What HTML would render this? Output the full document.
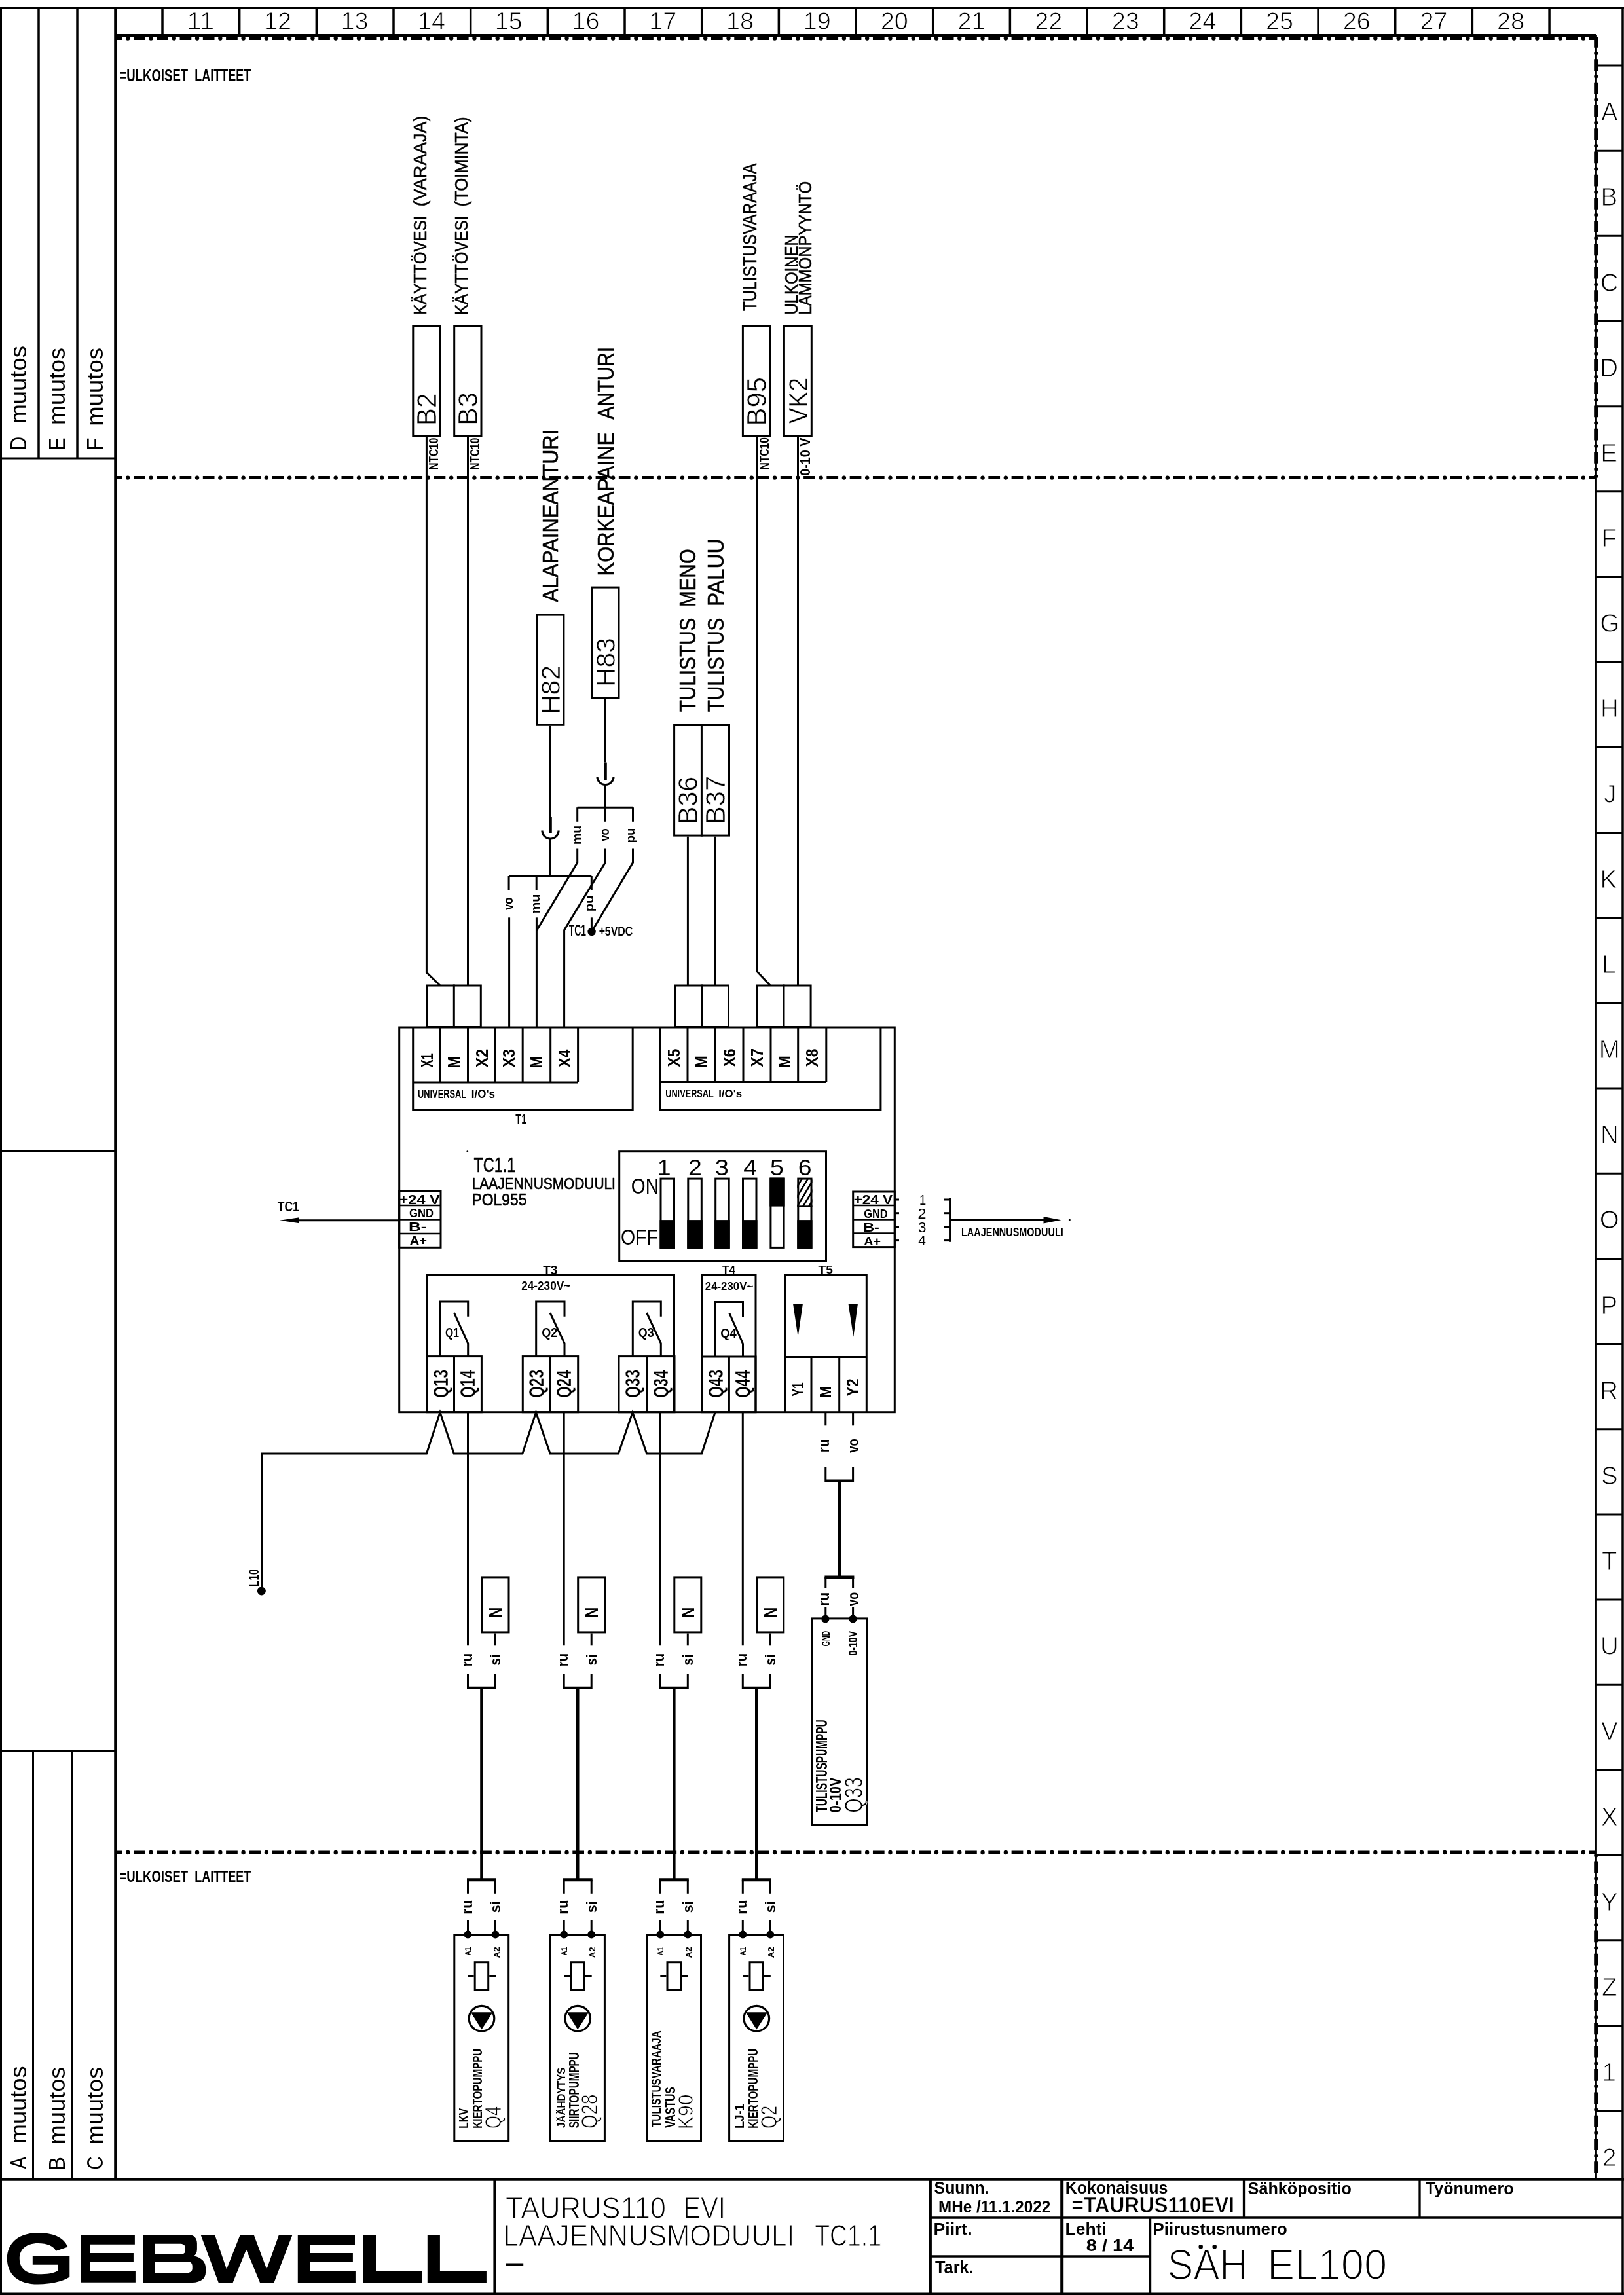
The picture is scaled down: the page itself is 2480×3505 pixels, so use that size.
<!DOCTYPE html>
<html><head><meta charset="utf-8"><style>
html,body{margin:0;padding:0;background:#fff;}
svg{display:block;filter:grayscale(1);}
svg text{font-family:"Liberation Sans",sans-serif;fill:#000;}
</style></head><body>
<svg width="2480" height="3505" viewBox="0 0 2480 3505">
<g stroke="#000" fill="none">
<rect x="0" y="0" width="2480" height="3505" fill="#fff" stroke="none"/>
<line x1="0" y1="12" x2="2480" y2="12" stroke-width="4" stroke-linecap="butt"/>
<line x1="1.5" y1="10" x2="1.5" y2="3505" stroke-width="3" stroke-linecap="butt"/>
<line x1="2478" y1="10" x2="2478" y2="3505" stroke-width="3.5" stroke-linecap="butt"/>
<line x1="0" y1="3503.3" x2="2480" y2="3503.3" stroke-width="3.5" stroke-linecap="butt"/>
<line x1="59" y1="12" x2="59" y2="700" stroke-width="3.5" stroke-linecap="butt"/>
<line x1="118" y1="12" x2="118" y2="700" stroke-width="3.5" stroke-linecap="butt"/>
<line x1="176.5" y1="12" x2="176.5" y2="3328" stroke-width="4.6" stroke-linecap="butt"/>
<line x1="0" y1="700" x2="176.5" y2="700" stroke-width="3" stroke-linecap="butt"/>
<line x1="0" y1="1758.4" x2="176.5" y2="1758.4" stroke-width="3" stroke-linecap="butt"/>
<line x1="0" y1="2674" x2="176.5" y2="2674" stroke-width="4" stroke-linecap="butt"/>
<line x1="50.5" y1="2674" x2="50.5" y2="3328" stroke-width="3" stroke-linecap="butt"/>
<line x1="109.5" y1="2674" x2="109.5" y2="3328" stroke-width="3" stroke-linecap="butt"/>
<text transform="translate(40 687.23) rotate(-90)" font-size="35.61" textLength="20.48" lengthAdjust="spacingAndGlyphs" stroke="none">D</text>
<text transform="translate(40 647.62) rotate(-90)" font-size="35.61" textLength="119.64" lengthAdjust="spacingAndGlyphs" stroke="none">muutos</text>
<text transform="translate(99 687.22) rotate(-90)" font-size="35.61" textLength="18.83" lengthAdjust="spacingAndGlyphs" stroke="none">E</text>
<text transform="translate(99 649.09) rotate(-90)" font-size="35.61" textLength="117.99" lengthAdjust="spacingAndGlyphs" stroke="none">muutos</text>
<text transform="translate(157 687.47) rotate(-90)" font-size="35.61" textLength="19.12" lengthAdjust="spacingAndGlyphs" stroke="none">F</text>
<text transform="translate(157 650.72) rotate(-90)" font-size="35.61" textLength="119.64" lengthAdjust="spacingAndGlyphs" stroke="none">muutos</text>
<text transform="translate(39.7 3312.45) rotate(-90)" font-size="35.61" textLength="18.51" lengthAdjust="spacingAndGlyphs" stroke="none">A</text>
<text transform="translate(39.7 3274.21) rotate(-90)" font-size="35.61" textLength="118.82" lengthAdjust="spacingAndGlyphs" stroke="none">muutos</text>
<text transform="translate(99.1 3314.96) rotate(-90)" font-size="35.61" textLength="20.8" lengthAdjust="spacingAndGlyphs" stroke="none">B</text>
<text transform="translate(99.1 3275.41) rotate(-90)" font-size="35.61" textLength="118.82" lengthAdjust="spacingAndGlyphs" stroke="none">muutos</text>
<text transform="translate(157 3313.83) rotate(-90)" font-size="35.61" textLength="20.3" lengthAdjust="spacingAndGlyphs" stroke="none">C</text>
<text transform="translate(157 3275.4) rotate(-90)" font-size="35.61" textLength="118.71" lengthAdjust="spacingAndGlyphs" stroke="none">muutos</text>
<line x1="176.5" y1="54" x2="2437" y2="54" stroke-width="4" stroke-linecap="butt"/>
<line x1="248" y1="12" x2="248" y2="54" stroke-width="3.5" stroke-linecap="butt"/>
<line x1="365.67" y1="12" x2="365.67" y2="54" stroke-width="3.5" stroke-linecap="butt"/>
<line x1="483.34" y1="12" x2="483.34" y2="54" stroke-width="3.5" stroke-linecap="butt"/>
<line x1="601.01" y1="12" x2="601.01" y2="54" stroke-width="3.5" stroke-linecap="butt"/>
<line x1="718.68" y1="12" x2="718.68" y2="54" stroke-width="3.5" stroke-linecap="butt"/>
<line x1="836.35" y1="12" x2="836.35" y2="54" stroke-width="3.5" stroke-linecap="butt"/>
<line x1="954.02" y1="12" x2="954.02" y2="54" stroke-width="3.5" stroke-linecap="butt"/>
<line x1="1071.69" y1="12" x2="1071.69" y2="54" stroke-width="3.5" stroke-linecap="butt"/>
<line x1="1189.36" y1="12" x2="1189.36" y2="54" stroke-width="3.5" stroke-linecap="butt"/>
<line x1="1307.03" y1="12" x2="1307.03" y2="54" stroke-width="3.5" stroke-linecap="butt"/>
<line x1="1424.7" y1="12" x2="1424.7" y2="54" stroke-width="3.5" stroke-linecap="butt"/>
<line x1="1542.37" y1="12" x2="1542.37" y2="54" stroke-width="3.5" stroke-linecap="butt"/>
<line x1="1660.04" y1="12" x2="1660.04" y2="54" stroke-width="3.5" stroke-linecap="butt"/>
<line x1="1777.71" y1="12" x2="1777.71" y2="54" stroke-width="3.5" stroke-linecap="butt"/>
<line x1="1895.38" y1="12" x2="1895.38" y2="54" stroke-width="3.5" stroke-linecap="butt"/>
<line x1="2013.05" y1="12" x2="2013.05" y2="54" stroke-width="3.5" stroke-linecap="butt"/>
<line x1="2130.72" y1="12" x2="2130.72" y2="54" stroke-width="3.5" stroke-linecap="butt"/>
<line x1="2248.39" y1="12" x2="2248.39" y2="54" stroke-width="3.5" stroke-linecap="butt"/>
<line x1="2366.06" y1="12" x2="2366.06" y2="54" stroke-width="3.5" stroke-linecap="butt"/>
<text x="285.3" y="45.3" font-size="37.79" textLength="42.04" lengthAdjust="spacingAndGlyphs" stroke="#fff" stroke-width="0.9" stroke-linejoin="round">11</text>
<text x="403" y="45.3" font-size="37.79" textLength="42.04" lengthAdjust="spacingAndGlyphs" stroke="#fff" stroke-width="0.9" stroke-linejoin="round">12</text>
<text x="520.55" y="45.3" font-size="37.79" textLength="42.04" lengthAdjust="spacingAndGlyphs" stroke="#fff" stroke-width="0.9" stroke-linejoin="round">13</text>
<text x="637.94" y="45.3" font-size="37.79" textLength="42.04" lengthAdjust="spacingAndGlyphs" stroke="#fff" stroke-width="0.9" stroke-linejoin="round">14</text>
<text x="755.85" y="45.3" font-size="37.79" textLength="42.04" lengthAdjust="spacingAndGlyphs" stroke="#fff" stroke-width="0.9" stroke-linejoin="round">15</text>
<text x="873.56" y="45.3" font-size="37.79" textLength="42.04" lengthAdjust="spacingAndGlyphs" stroke="#fff" stroke-width="0.9" stroke-linejoin="round">16</text>
<text x="991.35" y="45.3" font-size="37.79" textLength="42.04" lengthAdjust="spacingAndGlyphs" stroke="#fff" stroke-width="0.9" stroke-linejoin="round">17</text>
<text x="1108.89" y="45.3" font-size="37.79" textLength="42.04" lengthAdjust="spacingAndGlyphs" stroke="#fff" stroke-width="0.9" stroke-linejoin="round">18</text>
<text x="1226.63" y="45.3" font-size="37.79" textLength="42.04" lengthAdjust="spacingAndGlyphs" stroke="#fff" stroke-width="0.9" stroke-linejoin="round">19</text>
<text x="1344.64" y="45.3" font-size="37.79" textLength="42.04" lengthAdjust="spacingAndGlyphs" stroke="#fff" stroke-width="0.9" stroke-linejoin="round">20</text>
<text x="1462.49" y="45.3" font-size="37.79" textLength="42.04" lengthAdjust="spacingAndGlyphs" stroke="#fff" stroke-width="0.9" stroke-linejoin="round">21</text>
<text x="1580.19" y="45.3" font-size="37.79" textLength="42.04" lengthAdjust="spacingAndGlyphs" stroke="#fff" stroke-width="0.9" stroke-linejoin="round">22</text>
<text x="1697.74" y="45.3" font-size="37.79" textLength="42.04" lengthAdjust="spacingAndGlyphs" stroke="#fff" stroke-width="0.9" stroke-linejoin="round">23</text>
<text x="1815.13" y="45.3" font-size="37.79" textLength="42.04" lengthAdjust="spacingAndGlyphs" stroke="#fff" stroke-width="0.9" stroke-linejoin="round">24</text>
<text x="1933.04" y="45.3" font-size="37.79" textLength="42.04" lengthAdjust="spacingAndGlyphs" stroke="#fff" stroke-width="0.9" stroke-linejoin="round">25</text>
<text x="2050.75" y="45.3" font-size="37.79" textLength="42.04" lengthAdjust="spacingAndGlyphs" stroke="#fff" stroke-width="0.9" stroke-linejoin="round">26</text>
<text x="2168.54" y="45.3" font-size="37.79" textLength="42.04" lengthAdjust="spacingAndGlyphs" stroke="#fff" stroke-width="0.9" stroke-linejoin="round">27</text>
<text x="2286.08" y="45.3" font-size="37.79" textLength="42.04" lengthAdjust="spacingAndGlyphs" stroke="#fff" stroke-width="0.9" stroke-linejoin="round">28</text>
<line x1="178.8" y1="58.6" x2="2437" y2="58.6" stroke-width="5" stroke-dasharray="17.7 17.58" stroke-dashoffset="10.09"/>
<line x1="178.8" y1="58.6" x2="2434" y2="58.6" stroke-width="6.4" stroke-linecap="round" stroke-dasharray="0.01 35.27" stroke-dashoffset="18.87"/>
<line x1="178.8" y1="729.6" x2="2437" y2="729.6" stroke-width="5" stroke-dasharray="17.7 17.58" stroke-dashoffset="10.09"/>
<line x1="178.8" y1="729.6" x2="2434" y2="729.6" stroke-width="6.4" stroke-linecap="round" stroke-dasharray="0.01 35.27" stroke-dashoffset="18.87"/>
<line x1="178.8" y1="2829" x2="2437" y2="2829" stroke-width="5" stroke-dasharray="17.7 17.58" stroke-dashoffset="10.09"/>
<line x1="178.8" y1="2829" x2="2434" y2="2829" stroke-width="6.4" stroke-linecap="round" stroke-dasharray="0.01 35.27" stroke-dashoffset="18.87"/>
<line x1="2437" y1="54" x2="2437" y2="3328" stroke-width="3.8" stroke-linecap="butt"/>
<line x1="2437.2" y1="56.5" x2="2437.2" y2="729.6" stroke-width="6" stroke-dasharray="17.7 17.58" stroke-dashoffset="1.42"/>
<line x1="2437.2" y1="59.5" x2="2437.2" y2="726.6" stroke-width="6" stroke-linecap="round" stroke-dasharray="0.01 35.27" stroke-dashoffset="13.2"/>
<line x1="2437.2" y1="2829" x2="2437.2" y2="3328" stroke-width="6" stroke-dasharray="17.7 17.58" stroke-dashoffset="21.69"/>
<line x1="2437.2" y1="2832" x2="2437.2" y2="3325" stroke-width="6" stroke-linecap="round" stroke-dasharray="0.01 35.27" stroke-dashoffset="33.47"/>
<line x1="2437" y1="100" x2="2478" y2="100" stroke-width="3" stroke-linecap="butt"/>
<text x="2444.95" y="184.25" font-size="38.52" textLength="25.69" lengthAdjust="spacingAndGlyphs" stroke="#fff" stroke-width="1" stroke-linejoin="round">A</text>
<line x1="2437" y1="230.17" x2="2478" y2="230.17" stroke-width="3" stroke-linecap="butt"/>
<text x="2444.39" y="314.42" font-size="38.52" textLength="25.69" lengthAdjust="spacingAndGlyphs" stroke="#fff" stroke-width="1" stroke-linejoin="round">B</text>
<line x1="2437" y1="360.34" x2="2478" y2="360.34" stroke-width="3" stroke-linecap="butt"/>
<text x="2443.65" y="444.59" font-size="38.52" textLength="27.82" lengthAdjust="spacingAndGlyphs" stroke="#fff" stroke-width="1" stroke-linejoin="round">C</text>
<line x1="2437" y1="490.51" x2="2478" y2="490.51" stroke-width="3" stroke-linecap="butt"/>
<text x="2443.23" y="574.76" font-size="38.52" textLength="27.82" lengthAdjust="spacingAndGlyphs" stroke="#fff" stroke-width="1" stroke-linejoin="round">D</text>
<line x1="2437" y1="620.68" x2="2478" y2="620.68" stroke-width="3" stroke-linecap="butt"/>
<text x="2444.2" y="704.93" font-size="38.52" textLength="25.69" lengthAdjust="spacingAndGlyphs" stroke="#fff" stroke-width="1" stroke-linejoin="round">E</text>
<line x1="2437" y1="750.85" x2="2478" y2="750.85" stroke-width="3" stroke-linecap="butt"/>
<text x="2445.23" y="835.1" font-size="38.52" textLength="23.53" lengthAdjust="spacingAndGlyphs" stroke="#fff" stroke-width="1" stroke-linejoin="round">F</text>
<line x1="2437" y1="881.02" x2="2478" y2="881.02" stroke-width="3" stroke-linecap="butt"/>
<text x="2443.29" y="965.27" font-size="38.52" textLength="29.96" lengthAdjust="spacingAndGlyphs" stroke="#fff" stroke-width="1" stroke-linejoin="round">G</text>
<line x1="2437" y1="1011.19" x2="2478" y2="1011.19" stroke-width="3" stroke-linecap="butt"/>
<text x="2443.88" y="1095.44" font-size="38.52" textLength="27.82" lengthAdjust="spacingAndGlyphs" stroke="#fff" stroke-width="1" stroke-linejoin="round">H</text>
<line x1="2437" y1="1141.36" x2="2478" y2="1141.36" stroke-width="3" stroke-linecap="butt"/>
<text x="2449.3" y="1225.61" font-size="38.52" textLength="19.26" lengthAdjust="spacingAndGlyphs" stroke="#fff" stroke-width="1" stroke-linejoin="round">J</text>
<line x1="2437" y1="1271.53" x2="2478" y2="1271.53" stroke-width="3" stroke-linecap="butt"/>
<text x="2443.59" y="1355.78" font-size="38.52" textLength="25.69" lengthAdjust="spacingAndGlyphs" stroke="#fff" stroke-width="1" stroke-linejoin="round">K</text>
<line x1="2437" y1="1401.7" x2="2478" y2="1401.7" stroke-width="3" stroke-linecap="butt"/>
<text x="2446.15" y="1485.95" font-size="38.52" textLength="21.42" lengthAdjust="spacingAndGlyphs" stroke="#fff" stroke-width="1" stroke-linejoin="round">L</text>
<line x1="2437" y1="1531.87" x2="2478" y2="1531.87" stroke-width="3" stroke-linecap="butt"/>
<text x="2441.76" y="1616.12" font-size="38.52" textLength="32.09" lengthAdjust="spacingAndGlyphs" stroke="#fff" stroke-width="1" stroke-linejoin="round">M</text>
<line x1="2437" y1="1662.04" x2="2478" y2="1662.04" stroke-width="3" stroke-linecap="butt"/>
<text x="2443.88" y="1746.29" font-size="38.52" textLength="27.82" lengthAdjust="spacingAndGlyphs" stroke="#fff" stroke-width="1" stroke-linejoin="round">N</text>
<line x1="2437" y1="1792.21" x2="2478" y2="1792.21" stroke-width="3" stroke-linecap="butt"/>
<text x="2442.83" y="1876.46" font-size="38.52" textLength="29.96" lengthAdjust="spacingAndGlyphs" stroke="#fff" stroke-width="1" stroke-linejoin="round">O</text>
<line x1="2437" y1="1922.38" x2="2478" y2="1922.38" stroke-width="3" stroke-linecap="butt"/>
<text x="2444.39" y="2006.63" font-size="38.52" textLength="25.69" lengthAdjust="spacingAndGlyphs" stroke="#fff" stroke-width="1" stroke-linejoin="round">P</text>
<line x1="2437" y1="2052.55" x2="2478" y2="2052.55" stroke-width="3" stroke-linecap="butt"/>
<text x="2443.21" y="2136.8" font-size="38.52" textLength="27.82" lengthAdjust="spacingAndGlyphs" stroke="#fff" stroke-width="1" stroke-linejoin="round">R</text>
<line x1="2437" y1="2182.72" x2="2478" y2="2182.72" stroke-width="3" stroke-linecap="butt"/>
<text x="2444.96" y="2266.97" font-size="38.52" textLength="25.69" lengthAdjust="spacingAndGlyphs" stroke="#fff" stroke-width="1" stroke-linejoin="round">S</text>
<line x1="2437" y1="2312.89" x2="2478" y2="2312.89" stroke-width="3" stroke-linecap="butt"/>
<text x="2446.05" y="2397.14" font-size="38.52" textLength="23.53" lengthAdjust="spacingAndGlyphs" stroke="#fff" stroke-width="1" stroke-linejoin="round">T</text>
<line x1="2437" y1="2443.06" x2="2478" y2="2443.06" stroke-width="3" stroke-linecap="butt"/>
<text x="2443.89" y="2527.31" font-size="38.52" textLength="27.82" lengthAdjust="spacingAndGlyphs" stroke="#fff" stroke-width="1" stroke-linejoin="round">U</text>
<line x1="2437" y1="2573.23" x2="2478" y2="2573.23" stroke-width="3" stroke-linecap="butt"/>
<text x="2444.95" y="2657.48" font-size="38.52" textLength="25.69" lengthAdjust="spacingAndGlyphs" stroke="#fff" stroke-width="1" stroke-linejoin="round">V</text>
<line x1="2437" y1="2703.4" x2="2478" y2="2703.4" stroke-width="3" stroke-linecap="butt"/>
<text x="2444.93" y="2787.65" font-size="38.52" textLength="25.69" lengthAdjust="spacingAndGlyphs" stroke="#fff" stroke-width="1" stroke-linejoin="round">X</text>
<line x1="2437" y1="2833.57" x2="2478" y2="2833.57" stroke-width="3" stroke-linecap="butt"/>
<text x="2444.95" y="2917.82" font-size="38.52" textLength="25.69" lengthAdjust="spacingAndGlyphs" stroke="#fff" stroke-width="1" stroke-linejoin="round">Y</text>
<line x1="2437" y1="2963.74" x2="2478" y2="2963.74" stroke-width="3" stroke-linecap="butt"/>
<text x="2446.03" y="3047.99" font-size="38.52" textLength="23.53" lengthAdjust="spacingAndGlyphs" stroke="#fff" stroke-width="1" stroke-linejoin="round">Z</text>
<line x1="2437" y1="3093.91" x2="2478" y2="3093.91" stroke-width="3" stroke-linecap="butt"/>
<text x="2446.56" y="3178.16" font-size="38.52" textLength="21.42" lengthAdjust="spacingAndGlyphs" stroke="#fff" stroke-width="1" stroke-linejoin="round">1</text>
<line x1="2437" y1="3224.08" x2="2478" y2="3224.08" stroke-width="3" stroke-linecap="butt"/>
<text x="2447.09" y="3308.33" font-size="38.52" textLength="21.42" lengthAdjust="spacingAndGlyphs" stroke="#fff" stroke-width="1" stroke-linejoin="round">2</text>
<text x="182.33" y="124" font-size="25.44" textLength="104.87" lengthAdjust="spacingAndGlyphs" font-weight="bold" stroke="none">=ULKOISET</text>
<text x="297.29" y="124" font-size="25.44" textLength="86.1" lengthAdjust="spacingAndGlyphs" font-weight="bold" stroke="none">LAITTEET</text>
<text x="182.33" y="2873.6" font-size="24.71" textLength="104.87" lengthAdjust="spacingAndGlyphs" font-weight="bold" stroke="none">=ULKOISET</text>
<text x="297.29" y="2873.6" font-size="24.71" textLength="86.1" lengthAdjust="spacingAndGlyphs" font-weight="bold" stroke="none">LAITTEET</text>
<rect x="630.8" y="498.5" width="41.4" height="167.8" stroke-width="3" fill="none"/>
<rect x="693.7" y="498.5" width="41.3" height="167.8" stroke-width="3" fill="none"/>
<rect x="1134.4" y="498.5" width="42" height="167.9" stroke-width="3" fill="none"/>
<rect x="1197.4" y="498.5" width="41.9" height="167.9" stroke-width="3" fill="none"/>
<text transform="translate(666 650.01) rotate(-90)" font-size="42.15" textLength="49.34" lengthAdjust="spacingAndGlyphs" stroke="#fff" stroke-width="0.6" stroke-linejoin="round">B2</text>
<text transform="translate(729.4 650.12) rotate(-90)" font-size="42.15" textLength="50.95" lengthAdjust="spacingAndGlyphs" stroke="#fff" stroke-width="0.6" stroke-linejoin="round">B3</text>
<text transform="translate(1170 650.44) rotate(-90)" font-size="42.15" textLength="74.6" lengthAdjust="spacingAndGlyphs" stroke="#fff" stroke-width="0.6" stroke-linejoin="round">B95</text>
<text transform="translate(1233 647.16) rotate(-90)" font-size="41.43" textLength="70.23" lengthAdjust="spacingAndGlyphs" stroke="#fff" stroke-width="0.6" stroke-linejoin="round">VK2</text>
<text transform="translate(650.6 480.78) rotate(-90)" font-size="27.18" textLength="151.2" lengthAdjust="spacingAndGlyphs" stroke="#000" stroke-width="0.5" stroke-linejoin="round">KÄYTTÖVESI</text>
<text transform="translate(650.6 315.15) rotate(-90)" font-size="27.18" textLength="138.59" lengthAdjust="spacingAndGlyphs" stroke="#000" stroke-width="0.5" stroke-linejoin="round">(VARAAJA)</text>
<text transform="translate(713.5 480.98) rotate(-90)" font-size="27.18" textLength="151.4" lengthAdjust="spacingAndGlyphs" stroke="#000" stroke-width="0.5" stroke-linejoin="round">KÄYTTÖVESI</text>
<text transform="translate(713.5 315.56) rotate(-90)" font-size="27.18" textLength="137.12" lengthAdjust="spacingAndGlyphs" stroke="#000" stroke-width="0.5" stroke-linejoin="round">(TOIMINTA)</text>
<text transform="translate(1155 474.94) rotate(-90)" font-size="29.07" textLength="225.69" lengthAdjust="spacingAndGlyphs" stroke="#000" stroke-width="0.5" stroke-linejoin="round">TULISTUSVARAAJA</text>
<text transform="translate(1218 480.54) rotate(-90)" font-size="27.62" textLength="122.19" lengthAdjust="spacingAndGlyphs" stroke="#000" stroke-width="0.5" stroke-linejoin="round">ULKOINEN</text>
<text transform="translate(1238.7 480.67) rotate(-90)" font-size="27.18" textLength="203.81" lengthAdjust="spacingAndGlyphs" stroke="#000" stroke-width="0.5" stroke-linejoin="round">LÄMMÖNPYYNTÖ</text>
<text transform="translate(668.5 717.53) rotate(-90)" font-size="20.35" textLength="48.76" lengthAdjust="spacingAndGlyphs" font-weight="bold" stroke="none">NTC10</text>
<text transform="translate(731.5 717.53) rotate(-90)" font-size="20.35" textLength="48.76" lengthAdjust="spacingAndGlyphs" font-weight="bold" stroke="none">NTC10</text>
<text transform="translate(1173.5 717.54) rotate(-90)" font-size="21.08" textLength="49.38" lengthAdjust="spacingAndGlyphs" font-weight="bold" stroke="none">NTC10</text>
<text transform="translate(1237 726.78) rotate(-90)" font-size="21.8" textLength="58.11" lengthAdjust="spacingAndGlyphs" font-weight="bold" stroke="none">0-10 V</text>
<polyline points="651.4,667.8 651.4,1485 672,1505" stroke-width="3" fill="none"/>
<line x1="714.5" y1="667.8" x2="714.5" y2="1505" stroke-width="3" stroke-linecap="butt"/>
<polyline points="1155.5,667.9 1155.5,1483 1176.2,1505" stroke-width="3" fill="none"/>
<line x1="1218.5" y1="667.9" x2="1218.5" y2="1505" stroke-width="3" stroke-linecap="butt"/>
<text transform="translate(852.3 919.46) rotate(-90)" font-size="33.43" textLength="263.68" lengthAdjust="spacingAndGlyphs" stroke="#000" stroke-width="0.5" stroke-linejoin="round">ALAPAINEANTURI</text>
<text transform="translate(937.3 879.51) rotate(-90)" font-size="34.88" textLength="219.63" lengthAdjust="spacingAndGlyphs" stroke="#000" stroke-width="0.5" stroke-linejoin="round">KORKEAPAINE</text>
<text transform="translate(937.3 640.56) rotate(-90)" font-size="34.88" textLength="110.6" lengthAdjust="spacingAndGlyphs" stroke="#000" stroke-width="0.5" stroke-linejoin="round">ANTURI</text>
<rect x="819.9" y="939.1" width="41" height="168.2" stroke-width="3" fill="none"/>
<rect x="904.1" y="897.1" width="40.9" height="168.4" stroke-width="3" fill="none"/>
<text transform="translate(855 1091.06) rotate(-90)" font-size="41.13" textLength="75.12" lengthAdjust="spacingAndGlyphs" stroke="#fff" stroke-width="0.6" stroke-linejoin="round">H82</text>
<text transform="translate(938.9 1048.94) rotate(-90)" font-size="41.57" textLength="74.73" lengthAdjust="spacingAndGlyphs" stroke="#fff" stroke-width="0.6" stroke-linejoin="round">H83</text>
<line x1="840.5" y1="1108.8" x2="840.5" y2="1248" stroke-width="3" stroke-linecap="butt"/>
<line x1="840.5" y1="1248" x2="840.5" y2="1272" stroke-width="4.6" stroke-linecap="butt"/>
<path d="M 828 1268.5 A 12.5 12.5 0 0 0 853 1268.5" stroke-width="3.2" fill="none"/>
<line x1="840.5" y1="1281" x2="840.5" y2="1338" stroke-width="3" stroke-linecap="butt"/>
<line x1="777.1" y1="1338" x2="903.3" y2="1338" stroke-width="3" stroke-linecap="butt"/>
<line x1="777.1" y1="1338" x2="777.1" y2="1359.7" stroke-width="3" stroke-linecap="butt"/>
<line x1="819.2" y1="1338" x2="819.2" y2="1359.7" stroke-width="3" stroke-linecap="butt"/>
<line x1="903.3" y1="1338" x2="903.3" y2="1359.7" stroke-width="3" stroke-linecap="butt"/>
<line x1="924.5" y1="1067" x2="924.5" y2="1164.6" stroke-width="3" stroke-linecap="butt"/>
<line x1="924.5" y1="1164.6" x2="924.5" y2="1191" stroke-width="4.6" stroke-linecap="butt"/>
<path d="M 912 1186 A 12.5 12.5 0 0 0 937 1186" stroke-width="3.2" fill="none"/>
<line x1="924.5" y1="1198.5" x2="924.5" y2="1233.2" stroke-width="3" stroke-linecap="butt"/>
<line x1="881.7" y1="1233.2" x2="966.5" y2="1233.2" stroke-width="3" stroke-linecap="butt"/>
<line x1="881.7" y1="1233.2" x2="881.7" y2="1254.8" stroke-width="3" stroke-linecap="butt"/>
<line x1="924.3" y1="1233.2" x2="924.3" y2="1254.8" stroke-width="3" stroke-linecap="butt"/>
<line x1="966.5" y1="1233.2" x2="966.5" y2="1254.8" stroke-width="3" stroke-linecap="butt"/>
<text transform="translate(887.2 1290.09) rotate(-90)" font-size="18.93" textLength="29.38" lengthAdjust="spacingAndGlyphs" font-weight="bold" stroke="none">mu</text>
<text transform="translate(929.7 1284.87) rotate(-90)" font-size="19.87" textLength="19.52" lengthAdjust="spacingAndGlyphs" font-weight="bold" stroke="none">vo</text>
<text transform="translate(969 1287.21) rotate(-90)" font-size="18.93" textLength="22.42" lengthAdjust="spacingAndGlyphs" font-weight="bold" stroke="none">pu</text>
<text transform="translate(783 1390.07) rotate(-90)" font-size="19.87" textLength="19.73" lengthAdjust="spacingAndGlyphs" font-weight="bold" stroke="none">vo</text>
<text transform="translate(824.2 1395.3) rotate(-90)" font-size="18.93" textLength="29.6" lengthAdjust="spacingAndGlyphs" font-weight="bold" stroke="none">mu</text>
<text transform="translate(906 1392.33) rotate(-90)" font-size="18.93" textLength="24.66" lengthAdjust="spacingAndGlyphs" font-weight="bold" stroke="none">pu</text>
<polyline points="881.7,1295.6 881.7,1317.3 819.4,1421.3" stroke-width="3" fill="none"/>
<polyline points="924.3,1295.6 924.3,1317.3 861.6,1420.5 861.6,1569" stroke-width="3" fill="none"/>
<polyline points="966.5,1295.6 966.5,1317.3 904.9,1420.5" stroke-width="3" fill="none"/>
<line x1="777.6" y1="1401.3" x2="777.6" y2="1569" stroke-width="3" stroke-linecap="butt"/>
<line x1="819.4" y1="1401.3" x2="819.4" y2="1569" stroke-width="3" stroke-linecap="butt"/>
<line x1="903.4" y1="1401.3" x2="903.4" y2="1423" stroke-width="3" stroke-linecap="butt"/>
<circle cx="903.6" cy="1423" r="6.2" fill="#000" stroke="none"/>
<text x="868.74" y="1429.3" font-size="23.26" textLength="26.14" lengthAdjust="spacingAndGlyphs" font-weight="bold" stroke="none">TC1</text>
<text x="914.63" y="1429.3" font-size="20.35" textLength="51.5" lengthAdjust="spacingAndGlyphs" font-weight="bold" stroke="none">+5VDC</text>
<text transform="translate(1062.3 1087.37) rotate(-90)" font-size="34.59" textLength="143.73" lengthAdjust="spacingAndGlyphs" stroke="#000" stroke-width="0.5" stroke-linejoin="round">TULISTUS</text>
<text transform="translate(1062.3 927.03) rotate(-90)" font-size="34.59" textLength="88.74" lengthAdjust="spacingAndGlyphs" stroke="#000" stroke-width="0.5" stroke-linejoin="round">MENO</text>
<text transform="translate(1104.7 1087.37) rotate(-90)" font-size="35.32" textLength="143.73" lengthAdjust="spacingAndGlyphs" stroke="#000" stroke-width="0.5" stroke-linejoin="round">TULISTUS</text>
<text transform="translate(1104.7 926.05) rotate(-90)" font-size="35.32" textLength="103.54" lengthAdjust="spacingAndGlyphs" stroke="#000" stroke-width="0.5" stroke-linejoin="round">PALUU</text>
<rect x="1029.6" y="1107.5" width="83.9" height="168.6" stroke-width="3" fill="none"/>
<line x1="1071.4" y1="1106" x2="1071.4" y2="1277.6" stroke-width="3" stroke-linecap="butt"/>
<text transform="translate(1065.1 1258.97) rotate(-90)" font-size="42.15" textLength="73.07" lengthAdjust="spacingAndGlyphs" stroke="#fff" stroke-width="0.6" stroke-linejoin="round">B36</text>
<text transform="translate(1107 1259.02) rotate(-90)" font-size="42.15" textLength="74.11" lengthAdjust="spacingAndGlyphs" stroke="#fff" stroke-width="0.6" stroke-linejoin="round">B37</text>
<line x1="1050.4" y1="1277.6" x2="1050.4" y2="1505.3" stroke-width="3" stroke-linecap="butt"/>
<line x1="1092.4" y1="1277.6" x2="1092.4" y2="1505.3" stroke-width="3" stroke-linecap="butt"/>
<rect x="652.3" y="1505" width="82" height="63.5" stroke-width="3" fill="none"/>
<line x1="693.3" y1="1503.5" x2="693.3" y2="1570" stroke-width="3" stroke-linecap="butt"/>
<rect x="1030.8" y="1505" width="81.7" height="63.5" stroke-width="3" fill="none"/>
<line x1="1071.5" y1="1503.5" x2="1071.5" y2="1570" stroke-width="3" stroke-linecap="butt"/>
<rect x="1156.5" y="1505" width="81.6" height="63.5" stroke-width="3" fill="none"/>
<line x1="1197" y1="1503.5" x2="1197" y2="1570" stroke-width="3" stroke-linecap="butt"/>
<rect x="609.7" y="1569" width="756.6" height="587.7" stroke-width="3" fill="none"/>
<line x1="630.7" y1="1569" x2="630.7" y2="1653" stroke-width="3" stroke-linecap="butt"/>
<line x1="672.4" y1="1569" x2="672.4" y2="1653" stroke-width="3" stroke-linecap="butt"/>
<line x1="714.5" y1="1569" x2="714.5" y2="1653" stroke-width="3" stroke-linecap="butt"/>
<line x1="756.5" y1="1569" x2="756.5" y2="1653" stroke-width="3" stroke-linecap="butt"/>
<line x1="798.2" y1="1569" x2="798.2" y2="1653" stroke-width="3" stroke-linecap="butt"/>
<line x1="840.7" y1="1569" x2="840.7" y2="1653" stroke-width="3" stroke-linecap="butt"/>
<line x1="882.6" y1="1569" x2="882.6" y2="1653" stroke-width="3" stroke-linecap="butt"/>
<line x1="630.7" y1="1653" x2="882.6" y2="1653" stroke-width="3" stroke-linecap="butt"/>
<polyline points="630.7,1653 630.7,1695 966.2,1695 966.2,1569" stroke-width="3" fill="none"/>
<line x1="1007.8" y1="1569" x2="1007.8" y2="1652.5" stroke-width="3" stroke-linecap="butt"/>
<line x1="1050" y1="1569" x2="1050" y2="1652.5" stroke-width="3" stroke-linecap="butt"/>
<line x1="1092.4" y1="1569" x2="1092.4" y2="1652.5" stroke-width="3" stroke-linecap="butt"/>
<line x1="1135" y1="1569" x2="1135" y2="1652.5" stroke-width="3" stroke-linecap="butt"/>
<line x1="1177" y1="1569" x2="1177" y2="1652.5" stroke-width="3" stroke-linecap="butt"/>
<line x1="1218.7" y1="1569" x2="1218.7" y2="1652.5" stroke-width="3" stroke-linecap="butt"/>
<line x1="1261.8" y1="1569" x2="1261.8" y2="1652.5" stroke-width="3" stroke-linecap="butt"/>
<line x1="1007.8" y1="1652.5" x2="1261.8" y2="1652.5" stroke-width="3" stroke-linecap="butt"/>
<polyline points="1007.8,1652.5 1007.8,1695 1344.9,1695 1344.9,1569" stroke-width="3" fill="none"/>
<text x="638.03" y="1677" font-size="17.44" textLength="74.17" lengthAdjust="spacingAndGlyphs" font-weight="bold" stroke="none">UNIVERSAL</text>
<text x="719.87" y="1677" font-size="17.44" textLength="36.03" lengthAdjust="spacingAndGlyphs" font-weight="bold" stroke="none">I/O's</text>
<text x="1016.24" y="1675.6" font-size="16.72" textLength="73.56" lengthAdjust="spacingAndGlyphs" font-weight="bold" stroke="none">UNIVERSAL</text>
<text x="1097.17" y="1675.6" font-size="16.72" textLength="36.03" lengthAdjust="spacingAndGlyphs" font-weight="bold" stroke="none">I/O's</text>
<text x="787.34" y="1716" font-size="20.35" textLength="17.07" lengthAdjust="spacingAndGlyphs" font-weight="bold" stroke="none">T1</text>
<text transform="translate(660.55 1630.16) rotate(-90)" font-size="26.16" textLength="21.85" lengthAdjust="spacingAndGlyphs" font-weight="bold" stroke="none">X1</text>
<text transform="translate(702.45 1631.5) rotate(-90)" font-size="26.16" textLength="18.7" lengthAdjust="spacingAndGlyphs" font-weight="bold" stroke="none">M</text>
<text transform="translate(744.5 1630.2) rotate(-90)" font-size="26.16" textLength="28.33" lengthAdjust="spacingAndGlyphs" font-weight="bold" stroke="none">X2</text>
<text transform="translate(786.35 1630.2) rotate(-90)" font-size="26.16" textLength="28.24" lengthAdjust="spacingAndGlyphs" font-weight="bold" stroke="none">X3</text>
<text transform="translate(828.45 1631.5) rotate(-90)" font-size="26.16" textLength="18.7" lengthAdjust="spacingAndGlyphs" font-weight="bold" stroke="none">M</text>
<text transform="translate(870.65 1630.2) rotate(-90)" font-size="26.16" textLength="27.52" lengthAdjust="spacingAndGlyphs" font-weight="bold" stroke="none">X4</text>
<text transform="translate(1037.9 1629.6) rotate(-90)" font-size="26.16" textLength="28.04" lengthAdjust="spacingAndGlyphs" font-weight="bold" stroke="none">X5</text>
<text transform="translate(1080.2 1630.9) rotate(-90)" font-size="26.16" textLength="18.7" lengthAdjust="spacingAndGlyphs" font-weight="bold" stroke="none">M</text>
<text transform="translate(1122.7 1629.6) rotate(-90)" font-size="26.16" textLength="28.24" lengthAdjust="spacingAndGlyphs" font-weight="bold" stroke="none">X6</text>
<text transform="translate(1165 1629.6) rotate(-90)" font-size="26.16" textLength="28.43" lengthAdjust="spacingAndGlyphs" font-weight="bold" stroke="none">X7</text>
<text transform="translate(1206.85 1630.9) rotate(-90)" font-size="26.16" textLength="18.7" lengthAdjust="spacingAndGlyphs" font-weight="bold" stroke="none">M</text>
<text transform="translate(1249.25 1629.6) rotate(-90)" font-size="26.16" textLength="28.11" lengthAdjust="spacingAndGlyphs" font-weight="bold" stroke="none">X8</text>
<circle cx="713.8" cy="1758.6" r="1.3" fill="#000" stroke="none"/>
<text x="723.47" y="1790.3" font-size="31.98" textLength="63.67" lengthAdjust="spacingAndGlyphs" stroke="#000" stroke-width="0.6" stroke-linejoin="round">TC1.1</text>
<text x="720.69" y="1815.5" font-size="24.71" textLength="219.24" lengthAdjust="spacingAndGlyphs" stroke="#000" stroke-width="0.7" stroke-linejoin="round">LAAJENNUSMODUULI</text>
<text x="720.53" y="1840.7" font-size="26.16" textLength="83.83" lengthAdjust="spacingAndGlyphs" stroke="#000" stroke-width="0.7" stroke-linejoin="round">POL955</text>
<rect x="609.7" y="1819.5" width="63.3" height="85.8" stroke-width="3" fill="none"/>
<line x1="609.7" y1="1841" x2="673" y2="1841" stroke-width="2.6" stroke-linecap="butt"/>
<line x1="609.7" y1="1862.5" x2="673" y2="1862.5" stroke-width="2.6" stroke-linecap="butt"/>
<line x1="609.7" y1="1884" x2="673" y2="1884" stroke-width="2.6" stroke-linecap="butt"/>
<text x="609.61" y="1838.8" font-size="20.35" textLength="62.15" lengthAdjust="spacingAndGlyphs" font-weight="bold" stroke="none">+24 V</text>
<text x="625.12" y="1859" font-size="18.9" textLength="36.98" lengthAdjust="spacingAndGlyphs" font-weight="bold" stroke="none">GND</text>
<text x="624.07" y="1880.4" font-size="18.9" textLength="27.26" lengthAdjust="spacingAndGlyphs" font-weight="bold" stroke="none">B-</text>
<text x="625.8" y="1901.2" font-size="18.9" textLength="26.21" lengthAdjust="spacingAndGlyphs" font-weight="bold" stroke="none">A+</text>
<line x1="609" y1="1863.7" x2="450" y2="1863.7" stroke-width="3" stroke-linecap="butt"/>
<polygon points="427.3,1863.7 457,1859.2 457,1868.2" fill="#000" stroke="none"/>
<text x="423.8" y="1849.9" font-size="21.8" textLength="32.98" lengthAdjust="spacingAndGlyphs" font-weight="bold" stroke="none">TC1</text>
<rect x="945.7" y="1758.7" width="315.8" height="166.8" stroke-width="3" fill="none"/>
<rect x="1007.5" y="1863.1" width="23.5" height="43.8" fill="#000" stroke="none"/>
<rect x="1009" y="1800.1" width="20.5" height="105.3" stroke-width="3" fill="none"/>
<rect x="1049.3" y="1863.1" width="23.5" height="43.8" fill="#000" stroke="none"/>
<rect x="1050.8" y="1800.1" width="20.5" height="105.3" stroke-width="3" fill="none"/>
<rect x="1091.2" y="1863.1" width="23.5" height="43.8" fill="#000" stroke="none"/>
<rect x="1092.7" y="1800.1" width="20.5" height="105.3" stroke-width="3" fill="none"/>
<rect x="1133" y="1863.1" width="23.5" height="43.8" fill="#000" stroke="none"/>
<rect x="1134.5" y="1800.1" width="20.5" height="105.3" stroke-width="3" fill="none"/>
<rect x="1175.4" y="1798.6" width="23.2" height="44" fill="#000" stroke="none"/>
<rect x="1176.9" y="1800.1" width="20.2" height="105.3" stroke-width="3" fill="none"/>
<rect x="1217.3" y="1863.1" width="23.2" height="43.8" fill="#000" stroke="none"/>
<clipPath id="hc"><rect x="1217.3" y="1800.7" width="23.2" height="41.9"/></clipPath>
<path d="M 1190.3 1842.6 L 1215.44 1800.7 M 1199.3 1842.6 L 1224.44 1800.7 M 1208.3 1842.6 L 1233.44 1800.7 M 1217.3 1842.6 L 1242.44 1800.7 M 1226.3 1842.6 L 1251.44 1800.7 M 1235.3 1842.6 L 1260.44 1800.7 M 1244.3 1842.6 L 1269.44 1800.7 M 1253.3 1842.6 L 1278.44 1800.7 M 1262.3 1842.6 L 1287.44 1800.7 M 1271.3 1842.6 L 1296.44 1800.7 M 1280.3 1842.6 L 1305.44 1800.7" stroke-width="2.6" clip-path="url(#hc)"/>
<line x1="1217.3" y1="1842.6" x2="1240.5" y2="1842.6" stroke-width="2.6" stroke-linecap="butt"/>
<rect x="1218.8" y="1800.1" width="20.2" height="105.3" stroke-width="3" fill="none"/>
<text x="1003.89" y="1794.9" font-size="35.61" textLength="20.8" lengthAdjust="spacingAndGlyphs" stroke="none">1</text>
<text x="1050.9" y="1794.9" font-size="35.61" textLength="20.8" lengthAdjust="spacingAndGlyphs" stroke="none">2</text>
<text x="1092.11" y="1794.9" font-size="35.61" textLength="20.8" lengthAdjust="spacingAndGlyphs" stroke="none">3</text>
<text x="1135.22" y="1794.9" font-size="35.61" textLength="20.8" lengthAdjust="spacingAndGlyphs" stroke="none">4</text>
<text x="1176.14" y="1794.9" font-size="35.61" textLength="20.8" lengthAdjust="spacingAndGlyphs" stroke="none">5</text>
<text x="1218.67" y="1794.9" font-size="35.61" textLength="20.8" lengthAdjust="spacingAndGlyphs" stroke="none">6</text>
<text x="963.87" y="1822.7" font-size="33.43" textLength="42.12" lengthAdjust="spacingAndGlyphs" stroke="none">ON</text>
<text x="947.95" y="1900.8" font-size="33.43" textLength="56.89" lengthAdjust="spacingAndGlyphs" stroke="none">OFF</text>
<rect x="1302.7" y="1820" width="63.6" height="84.6" stroke-width="3" fill="none"/>
<line x1="1302.7" y1="1841" x2="1366.3" y2="1841" stroke-width="2.6" stroke-linecap="butt"/>
<line x1="1302.7" y1="1862.5" x2="1366.3" y2="1862.5" stroke-width="2.6" stroke-linecap="butt"/>
<line x1="1302.7" y1="1883.6" x2="1366.3" y2="1883.6" stroke-width="2.6" stroke-linecap="butt"/>
<text x="1303.65" y="1839" font-size="20.35" textLength="59.5" lengthAdjust="spacingAndGlyphs" font-weight="bold" stroke="none">+24 V</text>
<text x="1319.13" y="1859.7" font-size="18.9" textLength="36.46" lengthAdjust="spacingAndGlyphs" font-weight="bold" stroke="none">GND</text>
<text x="1318.23" y="1880.5" font-size="18.9" textLength="24.7" lengthAdjust="spacingAndGlyphs" font-weight="bold" stroke="none">B-</text>
<text x="1319.31" y="1901.5" font-size="18.9" textLength="25.79" lengthAdjust="spacingAndGlyphs" font-weight="bold" stroke="none">A+</text>
<line x1="1366" y1="1832" x2="1373" y2="1832" stroke-width="3" stroke-linecap="butt"/>
<line x1="1442" y1="1832" x2="1452.5" y2="1832" stroke-width="3" stroke-linecap="butt"/>
<line x1="1366" y1="1852.7" x2="1373" y2="1852.7" stroke-width="3" stroke-linecap="butt"/>
<line x1="1442" y1="1852.7" x2="1452.5" y2="1852.7" stroke-width="3" stroke-linecap="butt"/>
<line x1="1366" y1="1873.5" x2="1373" y2="1873.5" stroke-width="3" stroke-linecap="butt"/>
<line x1="1442" y1="1873.5" x2="1452.5" y2="1873.5" stroke-width="3" stroke-linecap="butt"/>
<line x1="1366" y1="1894.6" x2="1373" y2="1894.6" stroke-width="3" stroke-linecap="butt"/>
<line x1="1442" y1="1894.6" x2="1452.5" y2="1894.6" stroke-width="3" stroke-linecap="butt"/>
<text x="1404.1" y="1839.6" font-size="22.53" textLength="10.19" lengthAdjust="spacingAndGlyphs" stroke="none">1</text>
<text x="1401.63" y="1861.4" font-size="22.53" textLength="12.94" lengthAdjust="spacingAndGlyphs" stroke="none">2</text>
<text x="1401.95" y="1881.7" font-size="22.53" textLength="12.43" lengthAdjust="spacingAndGlyphs" stroke="none">3</text>
<text x="1402.32" y="1902.3" font-size="22.53" textLength="11.7" lengthAdjust="spacingAndGlyphs" stroke="none">4</text>
<line x1="1450.8" y1="1830" x2="1450.8" y2="1896.8" stroke-width="3.5" stroke-linecap="butt"/>
<line x1="1452.7" y1="1863.2" x2="1600" y2="1863.2" stroke-width="3.5" stroke-linecap="butt"/>
<polygon points="1620.4,1863.2 1593.5,1857.9 1593.5,1868.5" fill="#000" stroke="none"/>
<circle cx="1633.3" cy="1863" r="1.5" fill="#000" stroke="none"/>
<text x="1468.03" y="1887.8" font-size="17.44" textLength="155.73" lengthAdjust="spacingAndGlyphs" font-weight="bold" stroke="none">LAAJENNUSMODUULI</text>
<polyline points="651.5,2157 651.5,1946.9 1029.5,1946.9 1029.5,2157" stroke-width="3" fill="none"/>
<text x="829.29" y="1945.5" font-size="17.44" textLength="22.1" lengthAdjust="spacingAndGlyphs" font-weight="bold" stroke="none">T3</text>
<text x="796.31" y="1970.4" font-size="17.44" textLength="74.84" lengthAdjust="spacingAndGlyphs" font-weight="bold" stroke="none">24-230V~</text>
<polyline points="672.2,2071.6 672.2,1988 714.7,1988 714.7,2010.7" stroke-width="3" fill="none"/>
<polyline points="693.5,2005 714.7,2051.7 714.7,2071.6" stroke-width="3" fill="none"/>
<polyline points="818.7,2071.6 818.7,1988 862,1988 862,2010.7" stroke-width="3" fill="none"/>
<polyline points="840,2005 862,2051.7 862,2071.6" stroke-width="3" fill="none"/>
<polyline points="966.3,2071.6 966.3,1988 1009.3,1988 1009.3,2010.7" stroke-width="3" fill="none"/>
<polyline points="987.6,2005 1009.3,2051.7 1009.3,2071.6" stroke-width="3" fill="none"/>
<text x="680.05" y="2042.4" font-size="19.48" textLength="20.98" lengthAdjust="spacingAndGlyphs" font-weight="bold" stroke="none">Q1</text>
<text x="827.26" y="2042.4" font-size="19.48" textLength="24.17" lengthAdjust="spacingAndGlyphs" font-weight="bold" stroke="none">Q2</text>
<text x="974.66" y="2042.4" font-size="19.48" textLength="23.99" lengthAdjust="spacingAndGlyphs" font-weight="bold" stroke="none">Q3</text>
<rect x="651.8" y="2071.6" width="83.6" height="85.1" stroke-width="3" fill="none"/>
<line x1="693.5" y1="2071.6" x2="693.5" y2="2157" stroke-width="3" stroke-linecap="butt"/>
<text transform="translate(683.65 2134.83) rotate(-90)" font-size="31.98" textLength="42.85" lengthAdjust="spacingAndGlyphs" font-weight="bold" stroke="#fff" stroke-width="0.3" stroke-linejoin="round">Q13</text>
<text transform="translate(725.45 2134.81) rotate(-90)" font-size="31.98" textLength="42.13" lengthAdjust="spacingAndGlyphs" font-weight="bold" stroke="#fff" stroke-width="0.3" stroke-linejoin="round">Q14</text>
<rect x="798.3" y="2071.6" width="84.4" height="85.1" stroke-width="3" fill="none"/>
<line x1="840.2" y1="2071.6" x2="840.2" y2="2157" stroke-width="3" stroke-linecap="butt"/>
<text transform="translate(830.25 2134.83) rotate(-90)" font-size="31.98" textLength="42.85" lengthAdjust="spacingAndGlyphs" font-weight="bold" stroke="#fff" stroke-width="0.3" stroke-linejoin="round">Q23</text>
<text transform="translate(872.45 2134.81) rotate(-90)" font-size="31.98" textLength="42.13" lengthAdjust="spacingAndGlyphs" font-weight="bold" stroke="#fff" stroke-width="0.3" stroke-linejoin="round">Q24</text>
<rect x="945" y="2071.6" width="85" height="85.1" stroke-width="3" fill="none"/>
<line x1="987.5" y1="2071.6" x2="987.5" y2="2157" stroke-width="3" stroke-linecap="butt"/>
<text transform="translate(977.25 2134.83) rotate(-90)" font-size="31.98" textLength="42.85" lengthAdjust="spacingAndGlyphs" font-weight="bold" stroke="#fff" stroke-width="0.3" stroke-linejoin="round">Q33</text>
<text transform="translate(1019.75 2134.81) rotate(-90)" font-size="31.98" textLength="42.13" lengthAdjust="spacingAndGlyphs" font-weight="bold" stroke="#fff" stroke-width="0.3" stroke-linejoin="round">Q34</text>
<polyline points="1072.5,2157 1072.5,1946.5 1154,1946.5 1154,2157" stroke-width="3" fill="none"/>
<text x="1103.11" y="1944.8" font-size="15.99" textLength="19.68" lengthAdjust="spacingAndGlyphs" font-weight="bold" stroke="none">T4</text>
<text x="1076.82" y="1969.6" font-size="15.99" textLength="73.42" lengthAdjust="spacingAndGlyphs" font-weight="bold" stroke="none">24-230V~</text>
<polyline points="1092.5,2072 1092.5,1988.5 1134.5,1988.5 1134.5,2011.2" stroke-width="3" fill="none"/>
<polyline points="1113.8,2005.5 1134.5,2052.2 1134.5,2072" stroke-width="3" fill="none"/>
<text x="1100.24" y="2042.8" font-size="20.35" textLength="24.66" lengthAdjust="spacingAndGlyphs" font-weight="bold" stroke="none">Q4</text>
<rect x="1072.5" y="2072" width="81.5" height="84.7" stroke-width="3" fill="none"/>
<line x1="1113.4" y1="2072" x2="1113.4" y2="2157" stroke-width="3" stroke-linecap="butt"/>
<text transform="translate(1103.95 2134.83) rotate(-90)" font-size="31.98" textLength="42.85" lengthAdjust="spacingAndGlyphs" font-weight="bold" stroke="#fff" stroke-width="0.3" stroke-linejoin="round">Q43</text>
<text transform="translate(1144.7 2134.81) rotate(-90)" font-size="31.98" textLength="42.13" lengthAdjust="spacingAndGlyphs" font-weight="bold" stroke="#fff" stroke-width="0.3" stroke-linejoin="round">Q44</text>
<polyline points="1198.5,2157 1198.5,1946.5 1323.3,1946.5 1323.3,2157" stroke-width="3" fill="none"/>
<line x1="1198.5" y1="2072.6" x2="1323.3" y2="2072.6" stroke-width="3" stroke-linecap="butt"/>
<line x1="1239" y1="2072.6" x2="1239" y2="2157" stroke-width="3" stroke-linecap="butt"/>
<line x1="1281.7" y1="2072.6" x2="1281.7" y2="2157" stroke-width="3" stroke-linecap="butt"/>
<text x="1249.58" y="1944.8" font-size="15.99" textLength="22.35" lengthAdjust="spacingAndGlyphs" font-weight="bold" stroke="none">T5</text>
<polygon points="1211,1991 1226,1991 1218.6,2041.8" fill="#000" stroke="none"/>
<polygon points="1295.5,1991 1310,1991 1303.3,2041.8" fill="#000" stroke="none"/>
<text transform="translate(1226.6 2132.6) rotate(-90)" font-size="23.98" textLength="21.28" lengthAdjust="spacingAndGlyphs" font-weight="bold" stroke="none">Y1</text>
<text transform="translate(1269.2 2134.84) rotate(-90)" font-size="24.71" textLength="17.99" lengthAdjust="spacingAndGlyphs" font-weight="bold" stroke="none">M</text>
<text transform="translate(1311.2 2132.68) rotate(-90)" font-size="25.87" textLength="27.17" lengthAdjust="spacingAndGlyphs" font-weight="bold" stroke="none">Y2</text>
<polyline points="399.6,2430 399.6,2220 651.4,2220 672,2157 693.2,2220 797.9,2220 818.5,2157 840.1,2220 944.4,2220 966,2157 987.6,2220 1071.6,2220 1092,2157" stroke-width="3" fill="none"/>
<circle cx="399.4" cy="2430" r="6.5" fill="#000" stroke="none"/>
<text transform="translate(395.1 2423.04) rotate(-90)" font-size="21.8" textLength="26.67" lengthAdjust="spacingAndGlyphs" font-weight="bold" stroke="none">L10</text>
<line x1="714.5" y1="2157" x2="714.5" y2="2513.3" stroke-width="3" stroke-linecap="butt"/>
<rect x="736" y="2408.9" width="41" height="84" stroke-width="3" fill="none"/>
<text transform="translate(766.1 2470.47) rotate(-90)" font-size="27.91" textLength="15.85" lengthAdjust="spacingAndGlyphs" font-weight="bold" stroke="none">N</text>
<line x1="756.5" y1="2494.4" x2="756.5" y2="2513.3" stroke-width="3" stroke-linecap="butt"/>
<text transform="translate(720.5 2545.13) rotate(-90)" font-size="22.71" textLength="20.16" lengthAdjust="spacingAndGlyphs" font-weight="bold" stroke="none">ru</text>
<text transform="translate(764 2543.75) rotate(-90)" font-size="22.71" textLength="17.76" lengthAdjust="spacingAndGlyphs" font-weight="bold" stroke="none">si</text>
<polyline points="714.5,2556.2 714.5,2577.8 756.5,2577.8 756.5,2556.2" stroke-width="3" fill="none"/>
<line x1="714.5" y1="2577.8" x2="756.5" y2="2577.8" stroke-width="4.2" stroke-linecap="butt"/>
<line x1="735.5" y1="2577.8" x2="735.5" y2="2870.8" stroke-width="4.6" stroke-linecap="butt"/>
<line x1="713" y1="2870.8" x2="758" y2="2870.8" stroke-width="5" stroke-linecap="butt"/>
<line x1="714.5" y1="2870.8" x2="714.5" y2="2891.8" stroke-width="3" stroke-linecap="butt"/>
<line x1="756.5" y1="2870.8" x2="756.5" y2="2891.8" stroke-width="3" stroke-linecap="butt"/>
<text transform="translate(720.5 2923.77) rotate(-90)" font-size="22.71" textLength="22.35" lengthAdjust="spacingAndGlyphs" font-weight="bold" stroke="none">ru</text>
<text transform="translate(764 2921.25) rotate(-90)" font-size="22.71" textLength="17.76" lengthAdjust="spacingAndGlyphs" font-weight="bold" stroke="none">si</text>
<line x1="714.5" y1="2933" x2="714.5" y2="2954.6" stroke-width="3" stroke-linecap="butt"/>
<line x1="756.5" y1="2933" x2="756.5" y2="2954.6" stroke-width="3" stroke-linecap="butt"/>
<rect x="693.8" y="2955.2" width="82.9" height="314.8" stroke-width="3" fill="none"/>
<circle cx="714.5" cy="2954.6" r="6" fill="#000" stroke="none"/>
<circle cx="756.5" cy="2954.6" r="6" fill="#000" stroke="none"/>
<text transform="translate(719.1 2986.24) rotate(-90)" font-size="12.35" textLength="12.52" lengthAdjust="spacingAndGlyphs" font-weight="bold" stroke="none">A1</text>
<text transform="translate(762.5 2990.33) rotate(-90)" font-size="13.08" textLength="16.86" lengthAdjust="spacingAndGlyphs" font-weight="bold" stroke="none">A2</text>
<rect x="725.2" y="2996.7" width="20.5" height="42.3" stroke-width="3" fill="none"/>
<line x1="714.5" y1="3018" x2="723.7" y2="3018" stroke-width="3" stroke-linecap="butt"/>
<line x1="747.2" y1="3018" x2="757" y2="3018" stroke-width="3" stroke-linecap="butt"/>
<line x1="861.2" y1="2157" x2="861.2" y2="2513.3" stroke-width="3" stroke-linecap="butt"/>
<rect x="882.7" y="2408.9" width="41" height="84" stroke-width="3" fill="none"/>
<text transform="translate(912.8 2470.47) rotate(-90)" font-size="27.91" textLength="15.85" lengthAdjust="spacingAndGlyphs" font-weight="bold" stroke="none">N</text>
<line x1="903.2" y1="2494.4" x2="903.2" y2="2513.3" stroke-width="3" stroke-linecap="butt"/>
<text transform="translate(867.2 2545.13) rotate(-90)" font-size="22.71" textLength="20.16" lengthAdjust="spacingAndGlyphs" font-weight="bold" stroke="none">ru</text>
<text transform="translate(910.7 2543.75) rotate(-90)" font-size="22.71" textLength="17.76" lengthAdjust="spacingAndGlyphs" font-weight="bold" stroke="none">si</text>
<polyline points="861.2,2556.2 861.2,2577.8 903.2,2577.8 903.2,2556.2" stroke-width="3" fill="none"/>
<line x1="861.2" y1="2577.8" x2="903.2" y2="2577.8" stroke-width="4.2" stroke-linecap="butt"/>
<line x1="882.2" y1="2577.8" x2="882.2" y2="2870.8" stroke-width="4.6" stroke-linecap="butt"/>
<line x1="859.7" y1="2870.8" x2="904.7" y2="2870.8" stroke-width="5" stroke-linecap="butt"/>
<line x1="861.2" y1="2870.8" x2="861.2" y2="2891.8" stroke-width="3" stroke-linecap="butt"/>
<line x1="903.2" y1="2870.8" x2="903.2" y2="2891.8" stroke-width="3" stroke-linecap="butt"/>
<text transform="translate(867.2 2923.77) rotate(-90)" font-size="22.71" textLength="22.35" lengthAdjust="spacingAndGlyphs" font-weight="bold" stroke="none">ru</text>
<text transform="translate(910.7 2921.25) rotate(-90)" font-size="22.71" textLength="17.76" lengthAdjust="spacingAndGlyphs" font-weight="bold" stroke="none">si</text>
<line x1="861.2" y1="2933" x2="861.2" y2="2954.6" stroke-width="3" stroke-linecap="butt"/>
<line x1="903.2" y1="2933" x2="903.2" y2="2954.6" stroke-width="3" stroke-linecap="butt"/>
<rect x="840.5" y="2955.2" width="82.9" height="314.8" stroke-width="3" fill="none"/>
<circle cx="861.2" cy="2954.6" r="6" fill="#000" stroke="none"/>
<circle cx="903.2" cy="2954.6" r="6" fill="#000" stroke="none"/>
<text transform="translate(865.8 2986.24) rotate(-90)" font-size="12.35" textLength="12.52" lengthAdjust="spacingAndGlyphs" font-weight="bold" stroke="none">A1</text>
<text transform="translate(909.2 2990.33) rotate(-90)" font-size="13.08" textLength="16.86" lengthAdjust="spacingAndGlyphs" font-weight="bold" stroke="none">A2</text>
<rect x="871.9" y="2996.7" width="20.5" height="42.3" stroke-width="3" fill="none"/>
<line x1="861.2" y1="3018" x2="870.4" y2="3018" stroke-width="3" stroke-linecap="butt"/>
<line x1="893.9" y1="3018" x2="903.7" y2="3018" stroke-width="3" stroke-linecap="butt"/>
<line x1="1008.3" y1="2157" x2="1008.3" y2="2513.3" stroke-width="3" stroke-linecap="butt"/>
<rect x="1029.8" y="2408.9" width="41" height="84" stroke-width="3" fill="none"/>
<text transform="translate(1059.9 2470.47) rotate(-90)" font-size="27.91" textLength="15.85" lengthAdjust="spacingAndGlyphs" font-weight="bold" stroke="none">N</text>
<line x1="1050.3" y1="2494.4" x2="1050.3" y2="2513.3" stroke-width="3" stroke-linecap="butt"/>
<text transform="translate(1014.3 2545.13) rotate(-90)" font-size="22.71" textLength="20.16" lengthAdjust="spacingAndGlyphs" font-weight="bold" stroke="none">ru</text>
<text transform="translate(1057.8 2543.75) rotate(-90)" font-size="22.71" textLength="17.76" lengthAdjust="spacingAndGlyphs" font-weight="bold" stroke="none">si</text>
<polyline points="1008.3,2556.2 1008.3,2577.8 1050.3,2577.8 1050.3,2556.2" stroke-width="3" fill="none"/>
<line x1="1008.3" y1="2577.8" x2="1050.3" y2="2577.8" stroke-width="4.2" stroke-linecap="butt"/>
<line x1="1029.3" y1="2577.8" x2="1029.3" y2="2870.8" stroke-width="4.6" stroke-linecap="butt"/>
<line x1="1006.8" y1="2870.8" x2="1051.8" y2="2870.8" stroke-width="5" stroke-linecap="butt"/>
<line x1="1008.3" y1="2870.8" x2="1008.3" y2="2891.8" stroke-width="3" stroke-linecap="butt"/>
<line x1="1050.3" y1="2870.8" x2="1050.3" y2="2891.8" stroke-width="3" stroke-linecap="butt"/>
<text transform="translate(1014.3 2923.77) rotate(-90)" font-size="22.71" textLength="22.35" lengthAdjust="spacingAndGlyphs" font-weight="bold" stroke="none">ru</text>
<text transform="translate(1057.8 2921.25) rotate(-90)" font-size="22.71" textLength="17.76" lengthAdjust="spacingAndGlyphs" font-weight="bold" stroke="none">si</text>
<line x1="1008.3" y1="2933" x2="1008.3" y2="2954.6" stroke-width="3" stroke-linecap="butt"/>
<line x1="1050.3" y1="2933" x2="1050.3" y2="2954.6" stroke-width="3" stroke-linecap="butt"/>
<rect x="987.6" y="2955.2" width="82.9" height="314.8" stroke-width="3" fill="none"/>
<circle cx="1008.3" cy="2954.6" r="6" fill="#000" stroke="none"/>
<circle cx="1050.3" cy="2954.6" r="6" fill="#000" stroke="none"/>
<text transform="translate(1012.9 2986.24) rotate(-90)" font-size="12.35" textLength="12.52" lengthAdjust="spacingAndGlyphs" font-weight="bold" stroke="none">A1</text>
<text transform="translate(1056.3 2990.33) rotate(-90)" font-size="13.08" textLength="16.86" lengthAdjust="spacingAndGlyphs" font-weight="bold" stroke="none">A2</text>
<rect x="1019" y="2996.7" width="20.5" height="42.3" stroke-width="3" fill="none"/>
<line x1="1008.3" y1="3018" x2="1017.5" y2="3018" stroke-width="3" stroke-linecap="butt"/>
<line x1="1041" y1="3018" x2="1050.8" y2="3018" stroke-width="3" stroke-linecap="butt"/>
<line x1="1134.3" y1="2157" x2="1134.3" y2="2513.3" stroke-width="3" stroke-linecap="butt"/>
<rect x="1155.8" y="2408.9" width="41" height="84" stroke-width="3" fill="none"/>
<text transform="translate(1185.9 2470.47) rotate(-90)" font-size="27.91" textLength="15.85" lengthAdjust="spacingAndGlyphs" font-weight="bold" stroke="none">N</text>
<line x1="1176.3" y1="2494.4" x2="1176.3" y2="2513.3" stroke-width="3" stroke-linecap="butt"/>
<text transform="translate(1140.3 2545.13) rotate(-90)" font-size="22.71" textLength="20.16" lengthAdjust="spacingAndGlyphs" font-weight="bold" stroke="none">ru</text>
<text transform="translate(1183.8 2543.75) rotate(-90)" font-size="22.71" textLength="17.76" lengthAdjust="spacingAndGlyphs" font-weight="bold" stroke="none">si</text>
<polyline points="1134.3,2556.2 1134.3,2577.8 1176.3,2577.8 1176.3,2556.2" stroke-width="3" fill="none"/>
<line x1="1134.3" y1="2577.8" x2="1176.3" y2="2577.8" stroke-width="4.2" stroke-linecap="butt"/>
<line x1="1155.3" y1="2577.8" x2="1155.3" y2="2870.8" stroke-width="4.6" stroke-linecap="butt"/>
<line x1="1132.8" y1="2870.8" x2="1177.8" y2="2870.8" stroke-width="5" stroke-linecap="butt"/>
<line x1="1134.3" y1="2870.8" x2="1134.3" y2="2891.8" stroke-width="3" stroke-linecap="butt"/>
<line x1="1176.3" y1="2870.8" x2="1176.3" y2="2891.8" stroke-width="3" stroke-linecap="butt"/>
<text transform="translate(1140.3 2923.77) rotate(-90)" font-size="22.71" textLength="22.35" lengthAdjust="spacingAndGlyphs" font-weight="bold" stroke="none">ru</text>
<text transform="translate(1183.8 2921.25) rotate(-90)" font-size="22.71" textLength="17.76" lengthAdjust="spacingAndGlyphs" font-weight="bold" stroke="none">si</text>
<line x1="1134.3" y1="2933" x2="1134.3" y2="2954.6" stroke-width="3" stroke-linecap="butt"/>
<line x1="1176.3" y1="2933" x2="1176.3" y2="2954.6" stroke-width="3" stroke-linecap="butt"/>
<rect x="1113.6" y="2955.2" width="82.9" height="314.8" stroke-width="3" fill="none"/>
<circle cx="1134.3" cy="2954.6" r="6" fill="#000" stroke="none"/>
<circle cx="1176.3" cy="2954.6" r="6" fill="#000" stroke="none"/>
<text transform="translate(1138.9 2986.24) rotate(-90)" font-size="12.35" textLength="12.52" lengthAdjust="spacingAndGlyphs" font-weight="bold" stroke="none">A1</text>
<text transform="translate(1182.3 2990.33) rotate(-90)" font-size="13.08" textLength="16.86" lengthAdjust="spacingAndGlyphs" font-weight="bold" stroke="none">A2</text>
<rect x="1145" y="2996.7" width="20.5" height="42.3" stroke-width="3" fill="none"/>
<line x1="1134.3" y1="3018" x2="1143.5" y2="3018" stroke-width="3" stroke-linecap="butt"/>
<line x1="1167" y1="3018" x2="1176.8" y2="3018" stroke-width="3" stroke-linecap="butt"/>
<circle cx="735.5" cy="3082.7" r="19.3" fill="none" stroke-width="3.2"/>
<polygon points="719,3073.3 752.4,3073.3 735.5,3099.5" fill="#000" stroke="none"/>
<circle cx="882.2" cy="3082.7" r="19.3" fill="none" stroke-width="3.2"/>
<polygon points="865.7,3073.3 899.1,3073.3 882.2,3099.5" fill="#000" stroke="none"/>
<circle cx="1155.3" cy="3082.7" r="19.3" fill="none" stroke-width="3.2"/>
<polygon points="1138.8,3073.3 1172.2,3073.3 1155.3,3099.5" fill="#000" stroke="none"/>
<text transform="translate(715.4 3250.73) rotate(-90)" font-size="20.06" textLength="30.84" lengthAdjust="spacingAndGlyphs" font-weight="bold" stroke="none">LKV</text>
<text transform="translate(736.1 3250.71) rotate(-90)" font-size="19.91" textLength="122.04" lengthAdjust="spacingAndGlyphs" font-weight="bold" stroke="none">KIERTOPUMPPU</text>
<text transform="translate(765.3 3250.92) rotate(-90)" font-size="34.88" textLength="34.38" lengthAdjust="spacingAndGlyphs" stroke="#fff" stroke-width="0.8" stroke-linejoin="round">Q4</text>
<text transform="translate(863.2 3249.93) rotate(-90)" font-size="16.72" textLength="92.33" lengthAdjust="spacingAndGlyphs" font-weight="bold" stroke="none">JÄÄHDYTYS</text>
<text transform="translate(884 3250.14) rotate(-90)" font-size="21.8" textLength="115.97" lengthAdjust="spacingAndGlyphs" font-weight="bold" stroke="none">SIIRTOPUMPPU</text>
<text transform="translate(912.2 3251.01) rotate(-90)" font-size="34.88" textLength="52.42" lengthAdjust="spacingAndGlyphs" stroke="#fff" stroke-width="0.8" stroke-linejoin="round">Q28</text>
<text transform="translate(1009 3248.97) rotate(-90)" font-size="20.2" textLength="147.47" lengthAdjust="spacingAndGlyphs" font-weight="bold" stroke="none">TULISTUSVARAAJA</text>
<text transform="translate(1031.1 3249.81) rotate(-90)" font-size="21.51" textLength="62.61" lengthAdjust="spacingAndGlyphs" font-weight="bold" stroke="none">VASTUS</text>
<text transform="translate(1057.9 3252.17) rotate(-90)" font-size="32.27" textLength="53.54" lengthAdjust="spacingAndGlyphs" stroke="#fff" stroke-width="0.8" stroke-linejoin="round">K90</text>
<text transform="translate(1135.5 3250.93) rotate(-90)" font-size="20.2" textLength="37.74" lengthAdjust="spacingAndGlyphs" font-weight="bold" stroke="none">LJ-1</text>
<text transform="translate(1156.7 3250.71) rotate(-90)" font-size="20.06" textLength="122.04" lengthAdjust="spacingAndGlyphs" font-weight="bold" stroke="none">KIERTOPUMPPU</text>
<text transform="translate(1185.8 3250.94) rotate(-90)" font-size="35.47" textLength="34.96" lengthAdjust="spacingAndGlyphs" stroke="#fff" stroke-width="0.8" stroke-linejoin="round">Q2</text>
<line x1="1260.8" y1="2157" x2="1260.8" y2="2177.3" stroke-width="3" stroke-linecap="butt"/>
<line x1="1302.6" y1="2157" x2="1302.6" y2="2177.3" stroke-width="3" stroke-linecap="butt"/>
<text transform="translate(1266 2218.27) rotate(-90)" font-size="23.66" textLength="20.73" lengthAdjust="spacingAndGlyphs" font-weight="bold" stroke="none">ru</text>
<text transform="translate(1310.8 2218.77) rotate(-90)" font-size="24.61" textLength="21.49" lengthAdjust="spacingAndGlyphs" font-weight="bold" stroke="none">vo</text>
<polyline points="1260.8,2240.3 1260.8,2261.5 1302.6,2261.5 1302.6,2240.3" stroke-width="3" fill="none"/>
<line x1="1260.8" y1="2261.5" x2="1302.6" y2="2261.5" stroke-width="4.2" stroke-linecap="butt"/>
<line x1="1282" y1="2261.5" x2="1282" y2="2408.8" stroke-width="5.2" stroke-linecap="butt"/>
<line x1="1259.4" y1="2408.8" x2="1304.4" y2="2408.8" stroke-width="4.4" stroke-linecap="butt"/>
<line x1="1260.8" y1="2408.8" x2="1260.8" y2="2425.3" stroke-width="3" stroke-linecap="butt"/>
<line x1="1302.6" y1="2408.8" x2="1302.6" y2="2425.3" stroke-width="3" stroke-linecap="butt"/>
<text transform="translate(1266 2452.57) rotate(-90)" font-size="23.66" textLength="20.73" lengthAdjust="spacingAndGlyphs" font-weight="bold" stroke="none">ru</text>
<text transform="translate(1310.8 2452.57) rotate(-90)" font-size="24.61" textLength="20.76" lengthAdjust="spacingAndGlyphs" font-weight="bold" stroke="none">vo</text>
<line x1="1260.8" y1="2454.8" x2="1260.8" y2="2472" stroke-width="3" stroke-linecap="butt"/>
<line x1="1302.6" y1="2454.8" x2="1302.6" y2="2472" stroke-width="3" stroke-linecap="butt"/>
<rect x="1239.7" y="2471.9" width="84.4" height="314.6" stroke-width="3" fill="none"/>
<circle cx="1260.4" cy="2472.6" r="6" fill="#000" stroke="none"/>
<circle cx="1302.5" cy="2472.6" r="6" fill="#000" stroke="none"/>
<text transform="translate(1266.7 2514.44) rotate(-90)" font-size="16.86" textLength="23.79" lengthAdjust="spacingAndGlyphs" font-weight="bold" stroke="none">GND</text>
<text transform="translate(1309 2528.56) rotate(-90)" font-size="17.44" textLength="37.65" lengthAdjust="spacingAndGlyphs" font-weight="bold" stroke="none">0-10V</text>
<text transform="translate(1263 2767.57) rotate(-90)" font-size="24.42" textLength="141.11" lengthAdjust="spacingAndGlyphs" font-weight="bold" stroke="none">TULISTUSPUMPPU</text>
<text transform="translate(1283.7 2768.19) rotate(-90)" font-size="23.69" textLength="53.53" lengthAdjust="spacingAndGlyphs" font-weight="bold" stroke="none">0-10V</text>
<text transform="translate(1317 2768.76) rotate(-90)" font-size="38.66" textLength="54.43" lengthAdjust="spacingAndGlyphs" stroke="#fff" stroke-width="0.8" stroke-linejoin="round">Q33</text>
<line x1="0" y1="3328.4" x2="2480" y2="3328.4" stroke-width="4.8" stroke-linecap="butt"/>
<line x1="755.5" y1="3328" x2="755.5" y2="3505" stroke-width="4.2" stroke-linecap="butt"/>
<line x1="1420.6" y1="3328" x2="1420.6" y2="3505" stroke-width="4.6" stroke-linecap="butt"/>
<line x1="1420.6" y1="3387" x2="2478" y2="3387" stroke-width="3.4" stroke-linecap="butt"/>
<line x1="1420.6" y1="3446" x2="1756" y2="3446" stroke-width="3.4" stroke-linecap="butt"/>
<line x1="1621.7" y1="3328" x2="1621.7" y2="3505" stroke-width="5" stroke-linecap="butt"/>
<line x1="1756.2" y1="3387" x2="1756.2" y2="3505" stroke-width="4" stroke-linecap="butt"/>
<line x1="1899.5" y1="3328" x2="1899.5" y2="3387" stroke-width="3.3" stroke-linecap="butt"/>
<line x1="2168" y1="3328" x2="2168" y2="3387" stroke-width="3.3" stroke-linecap="butt"/>
<path fill="#000" stroke="none" d="M 103.6 3431.6 C 97 3416 80 3409.9 58 3409.9 C 28 3409.9 10.8 3426 10.8 3449.2 C 10.8 3474 28 3488.5 58 3488.5 C 80 3488.5 96 3484 106.3 3477.6 L 106.3 3445.8 L 49.8 3445.8 L 49.8 3458.7 L 88 3458.7 L 88 3468 C 82 3472 72 3473.3 58 3473.3 C 40 3473.3 29.8 3464 29.8 3449.6 C 29.8 3435 40 3425.9 58 3425.9 C 72 3425.9 82 3430 85.3 3437.7 Z"/>
<polygon points="124,3412.9 205.9,3412.9 205.9,3427.8 137.9,3427.8 137.9,3441.1 203.9,3441.1 203.9,3454.7 137.9,3454.7 137.9,3469 206.9,3469 206.9,3485.8 124,3485.8" fill="#000" stroke="none"/>
<path fill="#000" stroke="none" fill-rule="evenodd" d="M 218.9 3412.9 L 288 3412.9 C 296 3412.9 300.9 3418 300.9 3426 L 300.9 3435 C 300.9 3440 299 3443.5 296 3445.4 C 308 3447.5 314 3455 314 3463 L 314 3471 C 314 3480 306 3485.9 294 3485.9 L 218.9 3485.9 Z M 236.8 3426.7 L 275 3426.7 C 280 3426.7 282.9 3429 282.9 3433 L 282.9 3437 C 282.9 3441 280 3443 275 3443 L 236.8 3443 Z M 236.8 3453.9 L 286 3453.9 C 291 3453.9 293.7 3456.5 293.7 3460.5 L 293.7 3464.5 C 293.7 3468.5 291 3471 286 3471 L 236.8 3471 Z"/>
<polygon points="306.5,3412.9 328,3412.9 346,3465.4 366.8,3412.9 387.6,3412.9 407.3,3465.4 426,3412.9 446.6,3412.9 418.5,3485.9 397,3485.9 376.1,3435.8 355.6,3485.9 333.7,3485.9" fill="#000" stroke="none"/>
<polygon points="454.8,3413.1 542,3413.1 542,3427.9 473.9,3427.9 473.9,3440.9 538.9,3440.9 538.9,3454.7 473.9,3454.7 473.9,3468.9 542.9,3468.9 542.9,3486 454.8,3486" fill="#000" stroke="none"/>
<polygon points="554.9,3413.1 574,3413.1 574,3468.9 644.9,3468.9 644.9,3486 554.9,3486" fill="#000" stroke="none"/>
<polygon points="652.8,3413.1 671.9,3413.1 671.9,3468.9 742.9,3468.9 742.9,3486 652.8,3486" fill="#000" stroke="none"/>
<text x="771.95" y="3387.8" font-size="45.93" textLength="245.11" lengthAdjust="spacingAndGlyphs" stroke="#fff" stroke-width="1.2" stroke-linejoin="round">TAURUS110</text>
<text x="1043.31" y="3387.8" font-size="45.93" textLength="64.7" lengthAdjust="spacingAndGlyphs" stroke="#fff" stroke-width="1.2" stroke-linejoin="round">EVI</text>
<text x="768.42" y="3430.1" font-size="45.79" textLength="444.99" lengthAdjust="spacingAndGlyphs" stroke="#fff" stroke-width="1.2" stroke-linejoin="round">LAAJENNUSMODUULI</text>
<text x="1244.16" y="3430.1" font-size="45.79" textLength="101.87" lengthAdjust="spacingAndGlyphs" stroke="#fff" stroke-width="1.2" stroke-linejoin="round">TC1.1</text>
<line x1="772.9" y1="3458.5" x2="799.2" y2="3458.5" stroke-width="4" stroke-linecap="butt"/>
<text x="1426.58" y="3350" font-size="25.29" textLength="84.12" lengthAdjust="spacingAndGlyphs" font-weight="bold" stroke="none">Suunn.</text>
<text x="1433.09" y="3379.3" font-size="25.87" textLength="171.07" lengthAdjust="spacingAndGlyphs" font-weight="bold" stroke="none">MHe /11.1.2022</text>
<text x="1626.73" y="3350" font-size="25.29" textLength="156.59" lengthAdjust="spacingAndGlyphs" font-weight="bold" stroke="none">Kokonaisuus</text>
<text x="1636.52" y="3379.3" font-size="33.43" textLength="248.35" lengthAdjust="spacingAndGlyphs" font-weight="bold" stroke="#fff" stroke-width="0.5" stroke-linejoin="round">=TAURUS110EVI</text>
<text x="1905.57" y="3350.7" font-size="26.16" textLength="158.31" lengthAdjust="spacingAndGlyphs" font-weight="bold" stroke="none">Sähköpositio</text>
<text x="2176.92" y="3350.7" font-size="26.16" textLength="134.54" lengthAdjust="spacingAndGlyphs" font-weight="bold" stroke="none">Työnumero</text>
<text x="1425.52" y="3412.8" font-size="25.87" textLength="59.11" lengthAdjust="spacingAndGlyphs" font-weight="bold" stroke="none">Piirt.</text>
<text x="1626.63" y="3412.8" font-size="25.87" textLength="63.25" lengthAdjust="spacingAndGlyphs" font-weight="bold" stroke="none">Lehti</text>
<text x="1658.88" y="3438" font-size="26.16" textLength="72.27" lengthAdjust="spacingAndGlyphs" font-weight="bold" stroke="none">8 / 14</text>
<text x="1760.57" y="3412.5" font-size="25" textLength="205.24" lengthAdjust="spacingAndGlyphs" font-weight="bold" stroke="none">Piirustusnumero</text>
<text x="1427.92" y="3471.9" font-size="27.18" textLength="58.77" lengthAdjust="spacingAndGlyphs" font-weight="bold" stroke="none">Tark.</text>
<text x="1782.48" y="3480.5" font-size="64.39" textLength="123.1" lengthAdjust="spacingAndGlyphs" stroke="#fff" stroke-width="2" stroke-linejoin="round">SAH</text>
<text x="1934.9" y="3480.5" font-size="64.39" textLength="183.38" lengthAdjust="spacingAndGlyphs" stroke="#fff" stroke-width="2" stroke-linejoin="round">EL100</text>
<circle cx="1833.7" cy="3431.3" r="3.3" fill="#000" stroke="none"/>
<circle cx="1854.7" cy="3431.3" r="3.3" fill="#000" stroke="none"/>
</g>
</svg>
</body></html>
